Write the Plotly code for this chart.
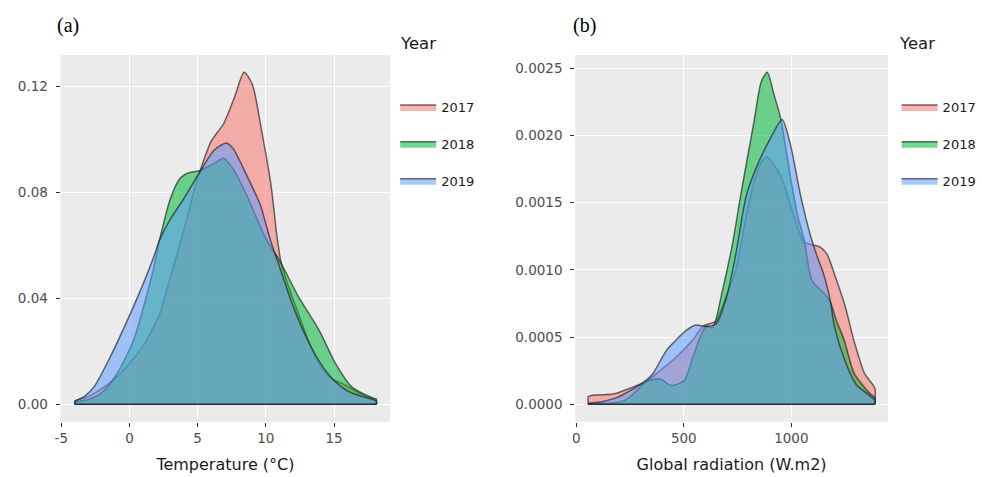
import plotly.graph_objects as go

# ---------------- data ----------------
years = ["2017", "2018", "2019"]
fill_colors = ["rgba(248,118,109,0.55)", "rgba(0,186,56,0.55)", "rgba(97,156,255,0.55)"]

# Panel (a): temperature density
temp_x_2017 = [-4.0, -3.0, -2.0, -1.0, 0.0, 1.0, 2.2, 3.0, 4.0, 4.7, 5.3, 6.0, 6.9, 7.7, 8.4, 9.0, 9.7, 10.4, 10.8, 11.1, 11.5, 12.4, 13.6, 14.6, 15.8, 17.3, 18.1]
temp_y_2017 = [0.0012, 0.003, 0.006, 0.010, 0.0155, 0.022, 0.034, 0.048, 0.066, 0.080, 0.090, 0.0995, 0.106, 0.116, 0.1255, 0.121, 0.103, 0.082, 0.064, 0.054, 0.047, 0.034, 0.018, 0.0105, 0.0073, 0.003, 0.0012]

temp_x_2018 = [-4.0, -3.0, -2.0, -0.9, 0.3, 1.1, 1.8, 2.2, 3.0, 3.7, 4.2, 5.2, 6.2, 6.9, 7.6, 8.6, 10.0, 11.0, 12.4, 13.9, 15.1, 16.3, 17.9, 18.1]
temp_y_2018 = [0.0008, 0.0018, 0.0045, 0.0117, 0.0243, 0.0381, 0.052, 0.062, 0.0777, 0.0853, 0.0872, 0.0884, 0.091, 0.0930, 0.089, 0.079, 0.0626, 0.0544, 0.0406, 0.028, 0.0155, 0.0066, 0.0023, 0.002]

temp_x_2019 = [-4.0, -3.3, -2.6, -1.4, -0.15, 0.6, 1.2, 1.8, 2.2, 3.0, 3.9, 5.3, 6.2, 7.1, 7.6, 8.6, 9.6, 10.3, 11.0, 12.0, 13.0, 14.0, 15.0, 16.0, 17.0, 18.1]
temp_y_2019 = [0.001, 0.003, 0.0066, 0.018, 0.0318, 0.0406, 0.048, 0.056, 0.062, 0.070, 0.077, 0.089, 0.096, 0.0987, 0.0966, 0.0865, 0.0752, 0.0626, 0.052, 0.037, 0.025, 0.0155, 0.009, 0.005, 0.003, 0.0012]

# Panel (b): global radiation density
rad_x_2017 = [57, 173, 249, 326, 388, 465, 542, 588, 619, 650, 696, 742, 790, 826, 860, 888, 950, 1011, 1057, 1090, 1134, 1165, 1200, 1250, 1290, 1340, 1388]
rad_y_2017 = [0.00006, 0.000077, 0.00012, 0.00017, 0.00025, 0.00035, 0.00048, 0.00058, 0.0006, 0.00062, 0.0008, 0.0010, 0.0014, 0.00165, 0.0018, 0.00184, 0.0017, 0.00141, 0.00121, 0.00119, 0.00117, 0.00112, 0.00097, 0.00073, 0.00048, 0.00023, 0.00012]

rad_x_2018 = [57, 157, 226, 280, 326, 388, 442, 503, 542, 603, 634, 680, 727, 765, 826, 860, 888, 920, 950, 1000, 1030, 1060, 1096, 1150, 1181, 1210, 1245, 1292, 1365, 1388]
rad_y_2018 = [0.000005, 0.000008, 0.00003, 0.0001, 0.00017, 0.00019, 0.00014, 0.00018, 0.00035, 0.00058, 0.00057, 0.00085, 0.0012, 0.00156, 0.0021, 0.0024, 0.00247, 0.0023, 0.00213, 0.00165, 0.0014, 0.00122, 0.00092, 0.00083, 0.00076, 0.00062, 0.00048, 0.00023, 0.00008, 0.00005]

rad_x_2019 = [57, 120, 188, 249, 326, 357, 419, 465, 511, 557, 603, 650, 696, 742, 790, 842, 903, 957, 996, 1042, 1088, 1120, 1150, 1181, 1200, 1250, 1300, 1388]
rad_y_2019 = [0.000005, 0.00002, 0.00005, 0.0001, 0.00018, 0.00023, 0.0004, 0.00048, 0.00055, 0.00059, 0.00058, 0.0006, 0.00078, 0.00112, 0.00155, 0.00178, 0.00198, 0.00212, 0.00193, 0.00156, 0.00126, 0.0011, 0.00097, 0.00077, 0.00058, 0.00032, 0.00015, 0.00003]

temp_series = [(temp_x_2017, temp_y_2017), (temp_x_2018, temp_y_2018), (temp_x_2019, temp_y_2019)]
rad_series = [(rad_x_2017, rad_y_2017), (rad_x_2018, rad_y_2018), (rad_x_2019, rad_y_2019)]

temp_xticks = [-5, 0, 5, 10, 15]
temp_xlabels = ["-5", "0", "5", "10", "15"]
temp_yticks = [0.00, 0.04, 0.08, 0.12]
rad_xticks = [0, 500, 1000]
rad_xlabels = ["0", "500", "1000"]
rad_yticks = [0.0, 0.0005, 0.0010, 0.0015, 0.0020, 0.0025]

# ---------------- figure ----------------
fig = go.Figure()
OUTLINE = "rgba(30,30,30,0.65)"

def add_density(xs, ys, name, color, xaxis, yaxis, legend):
    cx = [xs[0]] + list(xs) + [xs[-1]]
    cy = [0] + list(ys) + [0]
    fig.add_trace(go.Scatter(
        x=cx, y=cy, mode="lines", fill="tozeroy", fillcolor=color,
        line=dict(color=OUTLINE, width=1.5, shape="spline", smoothing=0.7),
        name=name, legendgroup=legend + name, legend=legend,
        xaxis=xaxis, yaxis=yaxis, hoverinfo="skip"))
    # bottom edge of the density polygon
    fig.add_trace(go.Scatter(
        x=[xs[0], xs[-1]], y=[0, 0], mode="lines",
        line=dict(color=OUTLINE, width=1.5), showlegend=False,
        xaxis=xaxis, yaxis=yaxis, hoverinfo="skip"))

for (xs, ys), yr, col in zip(temp_series, years, fill_colors):
    add_density(xs, ys, yr, col, "x", "y", "legend")
for (xs, ys), yr, col in zip(rad_series, years, fill_colors):
    add_density(xs, ys, yr, col, "x2", "y2", "legend2")

W, H = 982, 477
def px(v):
    return v / W
def py(v):
    return 1 - v / H

tick_font = dict(family="DejaVu Sans", size=13.5, color="#4D4D4D")
title_font = dict(family="DejaVu Sans", size=16, color="#1A1A1A")
axis_common = dict(showgrid=True, gridcolor="white", gridwidth=1.3, zeroline=False,
                   ticks="outside", ticklen=4, tickwidth=1, tickcolor="#333333",
                   tickfont=tick_font, showline=False)

fig.update_layout(
    width=W, height=H, margin=dict(l=0, r=0, t=0, b=0),
    paper_bgcolor="white", plot_bgcolor="#EBEBEB",
    xaxis=dict(domain=[px(55), px(387)], range=[-5.05, 19.12], tickvals=temp_xticks, ticktext=temp_xlabels,
               title=dict(text="Temperature (°C)", font=title_font, standoff=13), anchor="y", **axis_common),
    yaxis=dict(domain=[py(422), py(55)], range=[-0.00669, 0.13198], tickvals=temp_yticks, tickformat=".2f",
               anchor="x", ticklabelstandoff=5, **axis_common),
    xaxis2=dict(domain=[px(573.3), px(888.3)], range=[-4.6, 1449], tickvals=rad_xticks, ticktext=rad_xlabels,
                title=dict(text="Global radiation (W.m2)", font=title_font, standoff=13), anchor="y2", **axis_common),
    yaxis2=dict(domain=[py(421.7), py(55)], range=[-0.000129, 0.002599], tickvals=rad_yticks, tickformat=".4f",
                anchor="x2", ticklabelstandoff=5, **axis_common),
    legend=dict(x=px(392), y=py(92), xanchor="left", yanchor="top", tracegroupgap=17,
                font=dict(family="DejaVu Sans", size=13, color="#1A1A1A"), itemwidth=36,
                bgcolor="rgba(0,0,0,0)"),
    legend2=dict(x=px(897), y=py(92), xanchor="left", yanchor="top", tracegroupgap=17,
                 font=dict(family="DejaVu Sans", size=13, color="#1A1A1A"), itemwidth=36,
                 bgcolor="rgba(0,0,0,0)"),
    showlegend=True,
)

fig.add_annotation(text="Year", x=px(395), y=py(43), xref="paper", yref="paper", xanchor="left", yanchor="middle",
                   showarrow=False, font=dict(family="DejaVu Sans", size=16.5, color="#1A1A1A"))
fig.add_annotation(text="Year", x=px(897), y=py(43), xref="paper", yref="paper", xanchor="left", yanchor="middle",
                   showarrow=False, font=dict(family="DejaVu Sans", size=16.5, color="#1A1A1A"))
fig.add_annotation(text="(a)", x=px(49), y=py(26), xref="paper", yref="paper", xanchor="left", yanchor="middle",
                   showarrow=False, font=dict(family="Liberation Serif", size=20, color="#000000"))
fig.add_annotation(text="(b)", x=px(569), y=py(26), xref="paper", yref="paper", xanchor="left", yanchor="middle",
                   showarrow=False, font=dict(family="Liberation Serif", size=20, color="#000000"))

fig.write_html("out.html", config={"displayModeBar": False},
               post_script="document.body.style.margin='0';")
